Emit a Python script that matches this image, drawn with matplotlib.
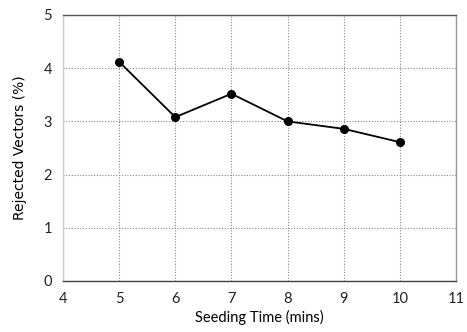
import matplotlib
matplotlib.use("Agg")
import matplotlib.pyplot as plt

seeding_time = [5, 6, 7, 8, 9, 10]
rejected_pct = [4.12, 3.08, 3.52, 3.00, 2.86, 2.61]
x_ticks = [4, 5, 6, 7, 8, 9, 10, 11]
y_ticks = [0, 1, 2, 3, 4, 5]

fig = plt.figure(figsize=(4.67, 3.32), dpi=100)
ax = fig.add_axes([63 / 467, 1 - 281 / 332, (456 - 63) / 467, (281 - 15) / 332])

ax.plot(seeding_time, rejected_pct, color="black", linewidth=1.3,
        marker="o", markersize=5.5, zorder=3)

ax.set_xlim(4, 11)
ax.set_ylim(0, 5)
ax.set_xticks(x_ticks)
ax.set_yticks(y_ticks)
ax.grid(True, linestyle=(0, (1, 1.5)), color="#888888", linewidth=0.8)
ax.tick_params(length=0, pad=8, labelsize=10.5, colors="#222222")
for lbl in ax.get_xticklabels() + ax.get_yticklabels():
    lbl.set_family("Lato")

ax.spines["bottom"].set_color("#444444")
ax.spines["top"].set_color("#555555")
ax.spines["right"].set_color("#999999")
ax.spines["left"].set_color("#cccccc")
for s in ax.spines.values():
    s.set_linewidth(1.0)

ax.set_xlabel("Seeding Time (mins)", family="Lato", fontsize=10.5, labelpad=3)
ax.set_ylabel("Rejected Vectors (%)", family="DejaVu Sans", fontsize=10, labelpad=12)

fig.savefig("out.png", dpi=100)
